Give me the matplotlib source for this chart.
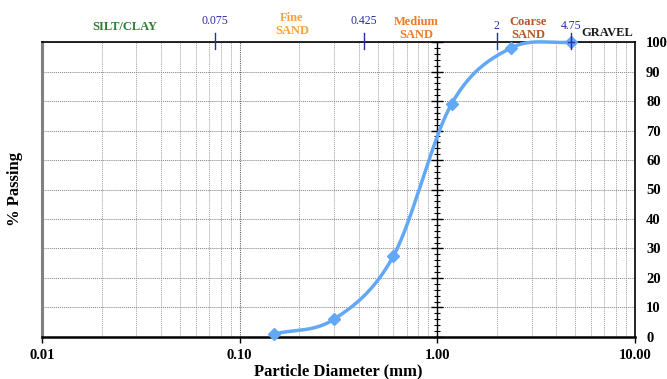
import numpy as np
import matplotlib.pyplot as plt
from matplotlib.ticker import FixedLocator, NullFormatter
import matplotlib.transforms as mtransforms

# sieve data
diam_mm = [0.15, 0.3, 0.6, 1.18, 2.36, 4.75]
pct_passing = [1.0, 6.0, 27.5, 79.0, 98.0, 100.0]

# soil class boundaries (top markers)
bound_vals = [0.075, 0.425, 2, 4.75]
bound_labels = ["0.075", "0.425", "2", "4.75"]
bound_label_y = [105.0, 105.0, 103.3, 103.3]

# zone labels
zone_names = ["SILT/CLAY", "Fine\nSAND", "Medium\nSAND", "Coarse\nSAND", "GRAVEL"]
zone_x = [0.0263, 0.184, 0.78, 2.87, 7.2]
zone_y = [1.032, 1.018, 1.004, 1.004, 1.01]
zone_colors = ["#2E7D32", "#F9A23A", "#F07A28", "#B5552A", "#1a1a1a"]

x_ticks = [0.01, 0.1, 1, 10]
x_ticklabels = ["0.01", "0.10", "1.00", "10.00"]
y_ticks = list(range(0, 101, 10))

plt.rcParams['font.family'] = ['Liberation Serif', 'DejaVu Serif']
plt.rcParams['font.weight'] = 'bold'


def catmull_rom(px, py, n=40):
    # Excel-style smoothed line, done in log-x / y space
    P = np.column_stack([px, py])
    P = np.vstack([P[0] - (P[1] - P[0]), P, P[-1] + (P[-1] - P[-2])])
    out = []
    for i in range(1, len(P) - 2):
        p0, p1, p2, p3 = P[i - 1], P[i], P[i + 1], P[i + 2]
        t = np.linspace(0, 1, n)[:, None]
        seg = 0.5 * ((2 * p1) + (-p0 + p2) * t + (2 * p0 - 5 * p1 + 4 * p2 - p3) * t ** 2
                     + (-p0 + 3 * p1 - 3 * p2 + p3) * t ** 3)
        out.append(seg)
    out = np.vstack(out)
    return out[:, 0], out[:, 1]


fig = plt.figure(figsize=(6.67, 3.79), dpi=100)
ax = fig.add_axes([0.063, 0.111, 0.889, 0.778])
ax.set_xscale('log')
ax.set_xlim(0.01, 10)
ax.set_ylim(0, 100)

# grid
ax.grid(which='major', axis='x', color='#606060', linestyle=(0, (1, 1)), linewidth=0.8)
ax.grid(which='minor', axis='x', color='#a0a0a0', linestyle=(0, (1, 1)), linewidth=0.7)
ax.grid(which='major', axis='y', color='#808080', linestyle=(0, (1, 1)), linewidth=0.7)
ax.set_axisbelow(True)

# x axis
ax.xaxis.set_major_locator(FixedLocator(x_ticks))
ax.set_xticklabels(x_ticklabels)
ax.xaxis.set_minor_formatter(NullFormatter())
ax.tick_params(axis='x', which='major', direction='out', length=4, width=1, labelsize=10.5, pad=5)
ax.tick_params(axis='x', which='minor', length=0)

# y axis crossing at x = 1, labels on the right
ax.spines['left'].set_position(('data', 1))
ax.spines['left'].set_linewidth(1.0)
ax.set_yticks(y_ticks)
ax.yaxis.set_minor_locator(FixedLocator(list(range(0, 101, 2))))
ax.tick_params(axis='y', which='major', left=True, right=False, labelleft=False,
               labelright=True, direction='inout', length=8, width=1, labelsize=10.5, pad=4)
ax.tick_params(axis='y', which='minor', left=True, right=False, direction='inout',
               length=5, width=0.8)
ax.grid(which='minor', axis='y', visible=False)

ax.spines['bottom'].set_linewidth(1.8)
ax.spines['top'].set_linewidth(1.2)
ax.spines['right'].set_linewidth(1.2)
ax.axvline(0.01, color='#808080', linewidth=2.2, clip_on=False)

# curve
lx, ly = catmull_rom(np.log10(diam_mm), pct_passing)
ax.plot(10 ** lx, ly, color='#62A8F7', linewidth=2.5, clip_on=False, zorder=4)
ax.plot(diam_mm, pct_passing, linestyle='none', marker='D', markersize=6,
        color='#62A8F7', clip_on=False, zorder=5)

# boundary markers at the top
for v, lab, ly_ in zip(bound_vals, bound_labels, bound_label_y):
    ax.plot([v, v], [97.5, 103], color='#2B2BA8', linewidth=1.0, clip_on=False, zorder=6)
    ax.text(v, ly_, lab, color='#2B2BA8', fontsize=8.5, fontweight='normal',
            ha='center', va='bottom', clip_on=False)
ax.plot([4.75 * 0.96, 4.75 * 1.04], [100, 100], color='#2B2BA8', linewidth=1.0,
        clip_on=False, zorder=6)

trans = mtransforms.blended_transform_factory(ax.transData, ax.transAxes)
for name, x, y, c in zip(zone_names, zone_x, zone_y, zone_colors):
    ax.text(x, y, name, color=c, fontsize=9, fontweight='bold', ha='center',
            va='bottom', transform=trans, linespacing=1.1, clip_on=False)

ax.set_xlabel("Particle Diameter (mm)", fontsize=12, fontweight='bold', labelpad=1)
fig.text(0.023, 0.5, "% Passing", rotation=90, fontsize=12, fontweight='bold',
         ha='center', va='center')

fig.savefig("out.png", dpi=100)
